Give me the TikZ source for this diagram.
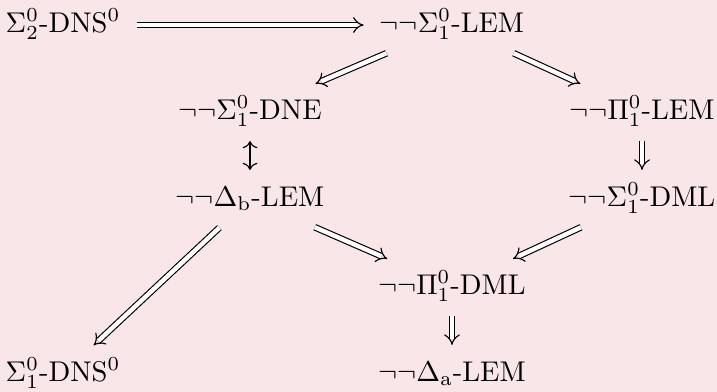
\documentclass[tikz,border=0pt]{standalone}
\usetikzlibrary{arrows.meta}
\definecolor{bg}{RGB}{249,230,232}
\begin{document}
\begin{tikzpicture}[x=0.3509pt,y=-0.3509pt,
  cell/.style={inner xsep=5pt, inner ysep=5pt, text height=7pt, text depth=2pt},
  impl/.style={double equal sign distance, -{Implies}, shorten >=0.5pt, shorten <=0.5pt},
  equiv/.style={{Computer Modern Rightarrow}-{Computer Modern Rightarrow}, shorten >=0.5pt, shorten <=0.5pt}]
\fill[bg] (0,0) rectangle (717,392);
\useasboundingbox (0,0) rectangle (717,392);

% nodes, placed on the math axis of each row
\node[cell] (s2dns) at (63,25)  {$\Sigma^0_2$-DNS$^0$};
\node[cell] (s1lem) at (452,25) {$\neg\neg\Sigma^0_1$-LEM};
\node[cell] (s1dne) at (250,112) {$\neg\neg\Sigma^0_1$-DNE};
\node[cell] (p1lem) at (642,112) {$\neg\neg\Pi^0_1$-LEM};
\node[cell] (dblem) at (250,199) {$\neg\neg\Delta_{\mathrm{b}}$-LEM};
\node[cell] (s1dml) at (642,199) {$\neg\neg\Sigma^0_1$-DML};
\node[cell] (p1dml) at (452,287) {$\neg\neg\Pi^0_1$-DML};
\node[cell] (s1dns) at (63,374) {$\Sigma^0_1$-DNS$^0$};
\node[cell] (dalem) at (452,374) {$\neg\neg\Delta_{\mathrm{a}}$-LEM};

% implications
\draw[impl] (s2dns) -- (s1lem);
\draw[impl] (s1lem) -- (s1dne);
\draw[impl] (s1lem) -- (p1lem);
\draw[impl] (p1lem) -- (s1dml);
\draw[equiv] (s1dne) -- (dblem);
\draw[impl] (dblem) -- (s1dns);
\draw[impl] (dblem) -- (p1dml);
\draw[impl] (s1dml) -- (p1dml);
\draw[impl] (p1dml) -- (dalem);
\end{tikzpicture}
\end{document}
